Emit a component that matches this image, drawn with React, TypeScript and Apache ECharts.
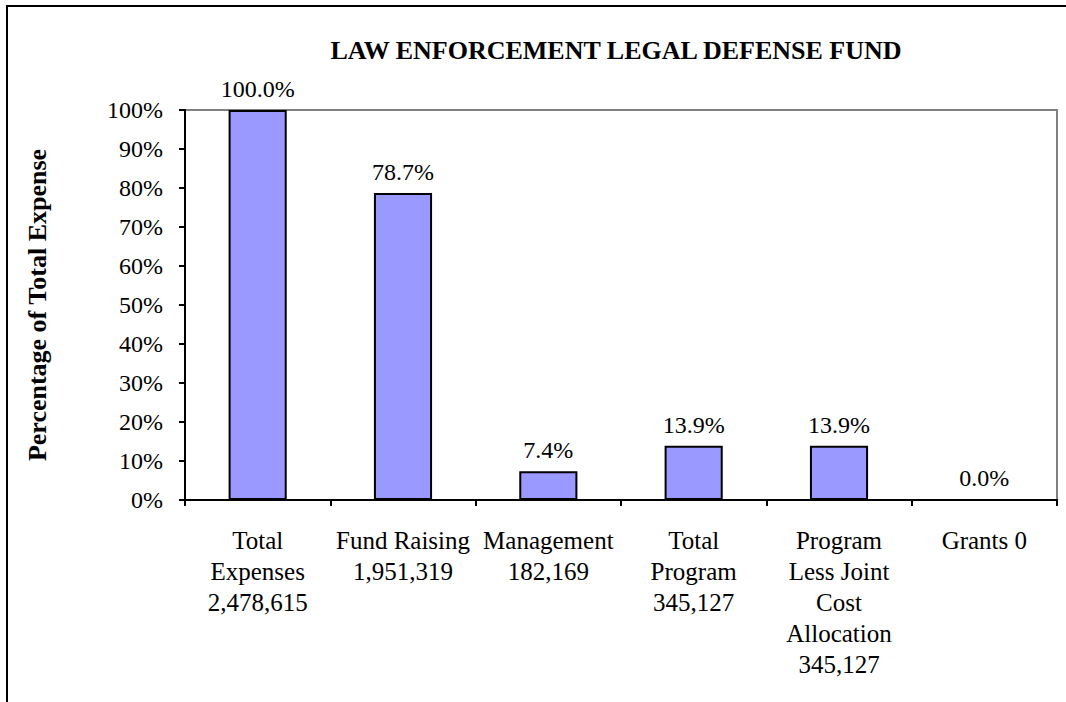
import React, { useEffect, useRef } from "react";
import * as echarts from "echarts";

const categories = [
  "Total\nExpenses\n2,478,615",
  "Fund Raising\n1,951,319",
  "Management\n182,169",
  "Total\nProgram\n345,127",
  "Program\nLess Joint\nCost\nAllocation\n345,127",
  "Grants 0",
];
const percentValues = [100.0, 78.7, 7.4, 13.9, 13.9, 0.0];
const titleText = "LAW ENFORCEMENT LEGAL DEFENSE FUND";
const yAxisName = "Percentage of Total Expense";

const FONT = "'Liberation Serif', 'Times New Roman', serif";

export default function App() {
  const ref = useRef<HTMLDivElement>(null);
  useEffect(() => {
    if (!ref.current) return;
    const chart = echarts.init(ref.current, null, { renderer: "svg" });
    chart.setOption({
      animation: false,
      backgroundColor: "#ffffff",
      textStyle: { fontFamily: FONT },
      title: {
        text: titleText,
        left: 611,
        top: 32,
        textAlign: "center",
        textStyle: { fontFamily: FONT, fontWeight: "bold", fontSize: 26, color: "#000" },
      },
      graphic: [
        {
          type: "rect",
          shape: { x: 7, y: 6, width: 1200, height: 900 },
          style: { fill: "none", stroke: "#000", lineWidth: 2 },
          silent: true,
        },
      ],
      grid: {
        left: 185,
        top: 110,
        right: 9,
        bottom: 202,
        show: true,
        borderColor: "#808080",
        borderWidth: 2,
        backgroundColor: "transparent",
      },
      xAxis: {
        type: "category",
        data: categories,
        axisLine: { show: true, lineStyle: { color: "#000", width: 2 } },
        axisTick: { show: true, alignWithLabel: false, length: 6, lineStyle: { color: "#000", width: 2 } },
        axisLabel: {
          interval: 0,
          margin: 25,
          fontSize: 25,
          lineHeight: 31,
          color: "#000",
          fontFamily: FONT,
        },
        splitLine: { show: false },
      },
      yAxis: {
        type: "value",
        min: 0,
        max: 100,
        interval: 10,
        name: yAxisName,
        nameLocation: "middle",
        nameGap: 135,
        nameRotate: 90,
        nameTextStyle: { fontFamily: FONT, fontWeight: "bold", fontSize: 26, color: "#000" },
        axisLine: { show: true, lineStyle: { color: "#000", width: 2 } },
        axisTick: { show: true, length: 6, lineStyle: { color: "#000", width: 2 } },
        axisLabel: {
          formatter: "{value}%",
          margin: 22,
          fontSize: 24,
          color: "#000",
          fontFamily: FONT,
        },
        splitLine: { show: false },
      },
      series: [
        {
          type: "bar",
          data: percentValues,
          barWidth: "40%",
          itemStyle: { color: "#9999FF", borderColor: "#000", borderWidth: 2 },
          label: {
            show: true,
            position: "top",
            distance: 9,
            fontSize: 24,
            color: "#000",
            fontFamily: FONT,
            formatter: (p: any) => Number(p.value).toFixed(1) + "%",
          },
        },
      ],
    });
    return () => chart.dispose();
  }, []);
  return (
    <div
      ref={ref}
      style={{ position: "absolute", left: 0, top: 0, width: 1066, height: 702 }}
    />
  );
}
